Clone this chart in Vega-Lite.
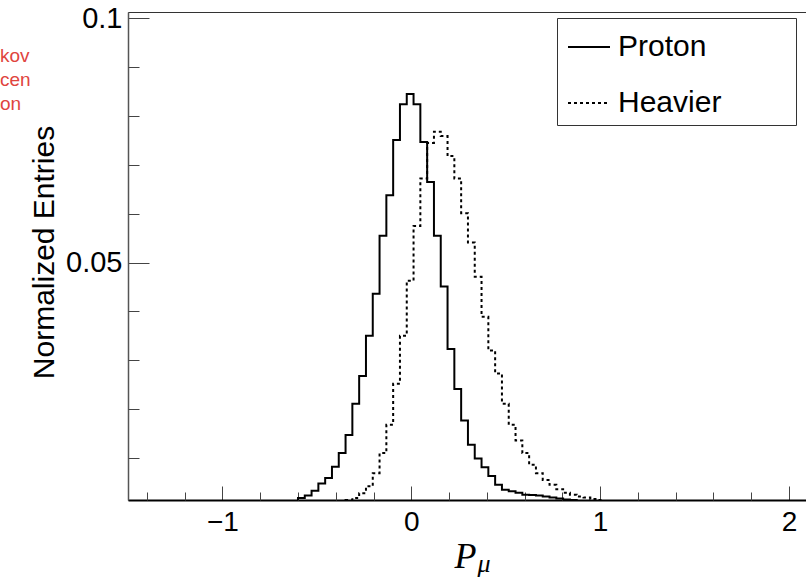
{
  "$schema": "https://vega.github.io/schema/vega-lite/v6.json",
  "width": 678,
  "height": 488,
  "autosize": {"type": "none"},
  "padding": {"left": 128, "top": 12, "right": 0, "bottom": 79},
  "background": "white",
  "config": {
    "view": {"stroke": "#333", "strokeWidth": 1},
    "font": "Liberation Sans",
    "axis": {"grid": false, "labelFont": "Liberation Sans", "labelColor": "black", "titleColor": "black", "tickColor": "#444", "tickWidth": 1, "labelFlush": false, "labelOverlap": false}
  },
  "title": {"text": ["kov", "cen", "on"], "anchor": "start", "frame": "group", "orient": "top", "dx": -128, "dy": 110, "baseline": "top", "fontSize": 19, "font": "Liberation Sans", "fontWeight": "normal", "color": "#e0443e", "lineHeight": 24, "offset": 0},
  "datasets": {
    "hist": [
      {"series": "Proton", "x": -0.708, "y": 0},
      {"series": "Proton", "x": -0.672, "y": 0.0003},
      {"series": "Proton", "x": -0.636, "y": 0.0009},
      {"series": "Proton", "x": -0.6, "y": 0.0018},
      {"series": "Proton", "x": -0.564, "y": 0.0023},
      {"series": "Proton", "x": -0.528, "y": 0.0033},
      {"series": "Proton", "x": -0.492, "y": 0.0048},
      {"series": "Proton", "x": -0.456, "y": 0.0059},
      {"series": "Proton", "x": -0.42, "y": 0.0082},
      {"series": "Proton", "x": -0.384, "y": 0.0110},
      {"series": "Proton", "x": -0.348, "y": 0.0147},
      {"series": "Proton", "x": -0.312, "y": 0.0211},
      {"series": "Proton", "x": -0.276, "y": 0.0268},
      {"series": "Proton", "x": -0.24, "y": 0.0350},
      {"series": "Proton", "x": -0.204, "y": 0.0436},
      {"series": "Proton", "x": -0.168, "y": 0.0555},
      {"series": "Proton", "x": -0.132, "y": 0.0638},
      {"series": "Proton", "x": -0.096, "y": 0.0751},
      {"series": "Proton", "x": -0.06, "y": 0.0824},
      {"series": "Proton", "x": -0.024, "y": 0.0845},
      {"series": "Proton", "x": 0.012, "y": 0.0824},
      {"series": "Proton", "x": 0.048, "y": 0.0747},
      {"series": "Proton", "x": 0.084, "y": 0.0665},
      {"series": "Proton", "x": 0.12, "y": 0.0555},
      {"series": "Proton", "x": 0.156, "y": 0.0451},
      {"series": "Proton", "x": 0.192, "y": 0.0323},
      {"series": "Proton", "x": 0.228, "y": 0.0241},
      {"series": "Proton", "x": 0.264, "y": 0.0177},
      {"series": "Proton", "x": 0.3, "y": 0.0127},
      {"series": "Proton", "x": 0.336, "y": 0.0099},
      {"series": "Proton", "x": 0.372, "y": 0.0081},
      {"series": "Proton", "x": 0.408, "y": 0.0063},
      {"series": "Proton", "x": 0.444, "y": 0.0045},
      {"series": "Proton", "x": 0.48, "y": 0.0035},
      {"series": "Proton", "x": 0.516, "y": 0.0032},
      {"series": "Proton", "x": 0.552, "y": 0.0029},
      {"series": "Proton", "x": 0.588, "y": 0.0025},
      {"series": "Proton", "x": 0.624, "y": 0.0024},
      {"series": "Proton", "x": 0.66, "y": 0.0023},
      {"series": "Proton", "x": 0.696, "y": 0.0021},
      {"series": "Proton", "x": 0.732, "y": 0.0019},
      {"series": "Proton", "x": 0.768, "y": 0.0017},
      {"series": "Proton", "x": 0.804, "y": 0.0015},
      {"series": "Proton", "x": 0.84, "y": 0.0014},
      {"series": "Proton", "x": 0.876, "y": 0.0012},
      {"series": "Proton", "x": 0.912, "y": 0.0010},
      {"series": "Proton", "x": 0.948, "y": 0.0008},
      {"series": "Proton", "x": 0.984, "y": 0.0006},
      {"series": "Proton", "x": 1.02, "y": 0.0004},
      {"series": "Proton", "x": 1.056, "y": 0.0002},
      {"series": "Proton", "x": 1.092, "y": 0},
      {"series": "Heavier", "x": -0.6, "y": 0},
      {"series": "Heavier", "x": -0.564, "y": 0.0002},
      {"series": "Heavier", "x": -0.528, "y": 0.0003},
      {"series": "Heavier", "x": -0.492, "y": 0.0004},
      {"series": "Heavier", "x": -0.456, "y": 0.0006},
      {"series": "Heavier", "x": -0.42, "y": 0.0008},
      {"series": "Heavier", "x": -0.384, "y": 0.0011},
      {"series": "Heavier", "x": -0.348, "y": 0.0014},
      {"series": "Heavier", "x": -0.312, "y": 0.0018},
      {"series": "Heavier", "x": -0.276, "y": 0.0028},
      {"series": "Heavier", "x": -0.24, "y": 0.0042},
      {"series": "Heavier", "x": -0.204, "y": 0.0069},
      {"series": "Heavier", "x": -0.168, "y": 0.0110},
      {"series": "Heavier", "x": -0.132, "y": 0.0168},
      {"series": "Heavier", "x": -0.096, "y": 0.0252},
      {"series": "Heavier", "x": -0.06, "y": 0.0350},
      {"series": "Heavier", "x": -0.024, "y": 0.0463},
      {"series": "Heavier", "x": 0.012, "y": 0.0575},
      {"series": "Heavier", "x": 0.048, "y": 0.0672},
      {"series": "Heavier", "x": 0.084, "y": 0.0745},
      {"series": "Heavier", "x": 0.12, "y": 0.0768},
      {"series": "Heavier", "x": 0.156, "y": 0.0759},
      {"series": "Heavier", "x": 0.192, "y": 0.0718},
      {"series": "Heavier", "x": 0.228, "y": 0.0672},
      {"series": "Heavier", "x": 0.264, "y": 0.0601},
      {"series": "Heavier", "x": 0.3, "y": 0.0541},
      {"series": "Heavier", "x": 0.336, "y": 0.0471},
      {"series": "Heavier", "x": 0.372, "y": 0.0389},
      {"series": "Heavier", "x": 0.408, "y": 0.0320},
      {"series": "Heavier", "x": 0.444, "y": 0.0273},
      {"series": "Heavier", "x": 0.48, "y": 0.0211},
      {"series": "Heavier", "x": 0.516, "y": 0.0168},
      {"series": "Heavier", "x": 0.552, "y": 0.0136},
      {"series": "Heavier", "x": 0.588, "y": 0.0110},
      {"series": "Heavier", "x": 0.624, "y": 0.0086},
      {"series": "Heavier", "x": 0.66, "y": 0.0069},
      {"series": "Heavier", "x": 0.696, "y": 0.0055},
      {"series": "Heavier", "x": 0.732, "y": 0.0045},
      {"series": "Heavier", "x": 0.768, "y": 0.0036},
      {"series": "Heavier", "x": 0.804, "y": 0.0029},
      {"series": "Heavier", "x": 0.84, "y": 0.0025},
      {"series": "Heavier", "x": 0.876, "y": 0.0021},
      {"series": "Heavier", "x": 0.912, "y": 0.0019},
      {"series": "Heavier", "x": 0.948, "y": 0.0016},
      {"series": "Heavier", "x": 0.984, "y": 0.0014},
      {"series": "Heavier", "x": 1.02, "y": 0.0011},
      {"series": "Heavier", "x": 1.056, "y": 0.0008},
      {"series": "Heavier", "x": 1.092, "y": 0.0005},
      {"series": "Heavier", "x": 1.128, "y": 0.0003},
      {"series": "Heavier", "x": 1.164, "y": 0}
    ]
  },
  "data": {"name": "hist"},
  "layer": [
    {
      "transform": [{"filter": "datum.series === 'Proton'"}],
      "mark": {"type": "line", "interpolate": "step-after", "color": "black", "strokeWidth": 2, "clip": true},
      "encoding": {
        "x": {"field": "x", "type": "quantitative", "scale": {"domain": [-1.5, 2.09], "nice": false, "zero": false},
          "axis": {"orient": "bottom", "values": [-1, 0, 1, 2], "tickSize": -14, "domain": true, "domainColor": "black", "domainWidth": 2, "labels": true, "labelFontSize": 28, "labelPadding": 22, "title": "P", "titleFont": "Liberation Serif", "titleFontStyle": "italic", "titleFontWeight": "normal", "titleFontSize": 36, "titleX": 326, "titleY": 67, "titleAlign": "left", "titleBaseline": "alphabetic"}},
        "y": {"field": "y", "type": "quantitative", "scale": {"domain": [0.0014, 0.1013], "nice": false, "zero": false},
          "axis": {"orient": "left", "values": [0.05, 0.1], "format": "~g", "tickSize": -21, "domain": true, "domainColor": "#555", "domainWidth": 1.5, "labelFontSize": 29, "labelPadding": 27, "title": "Normalized Entries", "titleFont": "Liberation Sans", "titleFontSize": 30, "titleFontWeight": "normal", "titleAngle": -90, "titleX": -75, "titleY": 240, "titleAlign": "center", "titleBaseline": "alphabetic"}},
        "strokeDash": {"field": "series", "type": "nominal", "scale": {"domain": ["Proton", "Heavier"], "range": [[1, 0], [3, 3]]},
          "legend": {"title": null, "orient": "none", "legendX": 429, "legendY": 6, "symbolType": "stroke", "symbolSize": 1764, "symbolStrokeWidth": 2, "symbolStrokeColor": "black", "labelFontSize": 30, "labelFont": "Liberation Sans", "labelColor": "black", "labelOffset": 7, "rowPadding": 19, "padding": 7, "symbolOffset": 3, "strokeColor": "#333", "fillColor": "white", "labelLimit": 400, "labelExpr": "datum.label + '\u00a0\u00a0\u00a0\u00a0\u00a0\u00a0\u00a0\u00a0\u200b'"}}
      }
    },
    {
      "transform": [{"filter": "datum.series === 'Heavier'"}],
      "mark": {"type": "line", "interpolate": "step-after", "color": "black", "strokeWidth": 2, "clip": true},
      "encoding": {
        "x": {"field": "x", "type": "quantitative", "scale": {"domain": [-1.5, 2.09], "nice": false, "zero": false},
          "axis": {"orient": "bottom", "values": [-1.4, -1.2, -0.8, -0.6, -0.4, -0.2, 0.2, 0.4, 0.6, 0.8, 1.2, 1.4, 1.6, 1.8], "tickSize": -8, "domain": false, "labels": false, "title": "μ", "titleFont": "Liberation Serif", "titleFontStyle": "italic", "titleFontWeight": "normal", "titleFontSize": 26, "titleX": 349, "titleY": 71, "titleAlign": "left", "titleBaseline": "alphabetic"}},
        "y": {"field": "y", "type": "quantitative", "scale": {"domain": [0.0014, 0.1013], "nice": false, "zero": false},
          "axis": {"orient": "left", "values": [0.01, 0.02, 0.03, 0.04, 0.06, 0.07, 0.08, 0.09], "tickSize": -11, "domain": false, "labels": false, "title": null}},
        "strokeDash": {"field": "series", "type": "nominal", "scale": {"domain": ["Proton", "Heavier"], "range": [[1, 0], [3, 3]]}}
      }
    }
  ],
  "resolve": {"axis": {"x": "independent", "y": "independent"}}
}
